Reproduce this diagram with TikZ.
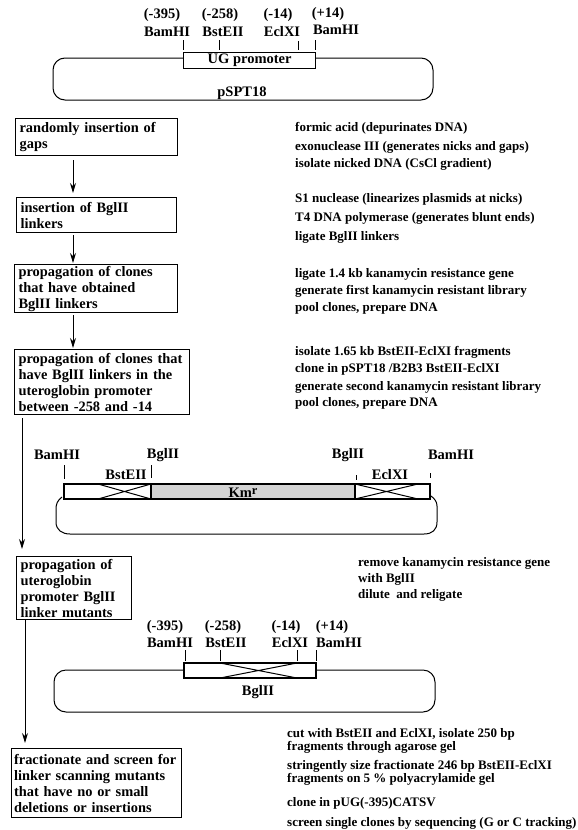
\documentclass[tikz,border=0pt]{standalone}
\usepackage{fontspec}
\setmainfont{Liberation Serif}
\usetikzlibrary{arrows.meta}
\tikzset{
 x=1pt,y=-1pt,
 line/.style={draw=black,line width=1pt},
 flowbox/.style={draw=black,line width=1.2pt,fill=white,inner xsep=4pt,inner ysep=0pt,align=left,anchor=north west,font=\fontsize{14.4}{16}\bfseries\selectfont},
 note/.style={anchor=west,inner sep=0pt,font=\fontsize{13}{15}\bfseries\selectfont},
 site/.style={anchor=center,inner sep=0pt,align=center,font=\fontsize{14.5}{17}\bfseries\selectfont},
 flow/.style={draw=black,line width=1pt,-{Stealth[length=10pt,width=6pt]}},
 cassette/.style={draw=black,line width=1.2pt,fill=white,inner sep=0pt},
 plasmid/.style={draw=black,line width=1pt,rounded corners=12pt}
}
\begin{document}
\begin{tikzpicture}
\useasboundingbox (0,0) rectangle (578,830);
\fill[white] (0,0) rectangle (578,830);

% top plasmid
\draw[plasmid] (315,58) -- (433,58) -- (433,100) -- (53,100) -- (53,58) -- (183,58);
\node[cassette,minimum width=132pt,minimum height=16pt,font=\fontsize{14.5}{16}\bfseries\selectfont,anchor=north west] (ug) at (183,52) {UG promoter\hspace{6pt}};
\node[site] (p1a) at (162,15) {(-395)};
\node[site] (p1b) at (167,32) {BamHI};
\node[site] (p2a) at (220,15) {(-258)};
\node[site] (p2b) at (223,32) {BstEII};
\node[site] (p3a) at (278,15) {(-14)};
\node[site] (p3b) at (282,32) {EclXI};
\node[site] (p4a) at (328,14) {(+14)};
\node[site] (p4b) at (336,30) {BamHI};
\draw[line] (183,40) -- (183,50);
\draw[line] (219,40) -- (219,50);
\draw[line] (298,41) -- (298,50);
\draw[line] (315,40) -- (315,50);
\node[site] (ps) at (242,93) {pSPT18};

% flow boxes
\node[flowbox,text width=154pt,minimum height=37pt] (b1) at (15,118) {randomly insertion of\\gaps};
\node[flowbox,text width=152pt,minimum height=35pt] (b2) at (16,197) {insertion of BglII\\linkers};
\node[flowbox,text width=155pt,minimum height=48pt] (b3) at (14,264) {propagation of clones\\that have obtained\\BglII linkers};
\node[flowbox,text width=167pt,minimum height=65pt] (b4) at (14,349) {propagation of clones that\\have BglII linkers in the\\uteroglobin promoter\\between -258 and -14};
\node[flowbox,text width=107pt,minimum height=63pt] (b5) at (16,556) {propagation of\\uteroglobin\\promoter BglII\\linker mutants};
\node[flowbox,inner xsep=2.5pt,text width=165pt,minimum height=69pt] (b6) at (11,748) {\mbox{fractionate and screen for}\\linker scanning mutants\\that have no or small\\deletions or insertions};

\coordinate (a1s) at (73,160);
\coordinate (a1e) at (73,193);
\coordinate (a2s) at (73,235);
\coordinate (a2e) at (73,263);
\coordinate (a3s) at (73,315);
\coordinate (a3e) at (73,348);
\coordinate (a4s) at (22,418);
\coordinate (a4e) at (22,549);
\coordinate (a5s) at (25,619);
\coordinate (a5e) at (25,743);
\draw[flow] (a1s) -- (a1e);
\draw[flow] (a2s) -- (a2e);
\draw[flow] (a3s) -- (a3e);
\draw[flow] (a4s) -- (a4e);
\draw[flow] (a5s) -- (a5e);

% notes
\foreach \y/\t in {
 128/{formic acid (depurinates DNA)},
 147/{exonuclease III (generates nicks and gaps)},
 164/{isolate nicked DNA (CsCl gradient)},
 199/{S1 nuclease (linearizes plasmids at nicks)},
 218/{T4 DNA polymerase (generates blunt ends)},
 237/{ligate BglII linkers},
 274/{ligate 1.4 kb kanamycin resistance gene},
 291/{generate first kanamycin resistant library},
 308/{pool clones, prepare DNA},
 352/{isolate 1.65 kb BstEII-EclXI fragments},
 369/{clone in pSPT18 /B2B3 BstEII-EclXI},
 387/{generate second kanamycin resistant library},
 403/{pool clones, prepare DNA}}
 {\node[note] at (295,\y) {\t};}
\foreach \y/\t in {
 563/{remove kanamycin resistance gene},
 579/{with BglII},
 595/{dilute\ \ and religate}}
 {\node[note] at (358,\y) {\t};}
\foreach \y/\t in {
 734/{cut with BstEII and EclXI, isolate 250 bp},
 747/{fragments through agarose gel},
 766/{stringently size fractionate 246 bp BstEII-EclXI},
 779/{fragments on 5 \% polyacrylamide gel},
 803/{clone in pUG(-395)CATSV},
 823/{screen single clones by sequencing (G or C tracking)}}
 {\node[note] at (287,\y) {\t};}

% middle construct
\draw[line] (62,497) .. controls (57,501) and (56,504) .. (56,510) -- (56,522) .. controls (56,530) and (62,534) .. (70,534) -- (424,534) .. controls (432,534) and (437,530) .. (437,522) -- (437,506) .. controls (437,502) and (435,499) .. (431,496);
\draw[draw=black,line width=1.2pt,fill=white] (64,484) rectangle (430,499);
\fill[black!17] (151,485) rectangle (355,498);
\draw[line width=1.2pt] (151,484) -- (151,499) (355,484) -- (355,499);
\draw[line] (98,484) -- (151,499) (98,499) -- (151,484);
\draw[line] (355,484) -- (418,499) (355,499) -- (418,484);
\node[site] (km) at (243,493) {Km\raisebox{3pt}{\fontsize{12.5}{12.5}\selectfont r}};
\node[site] at (57,455) {BamHI};
\node[site] at (163,455) {BglII};
\node[site] at (348,455) {BglII};
\node[site] at (451,455) {BamHI};
\node[site] at (126,475) {BstEII};
\node[site] at (390,475) {EclXI};
\draw[line] (64,465) -- (64,479);
\draw[line] (151,465) -- (151,478);
\draw[line] (356,475) -- (356,480);
\draw[line] (430,473) -- (430,478);

% lower construct
\draw[plasmid] (316,670) -- (435,670) -- (435,712) -- (54,712) -- (54,670) -- (184,670);
\draw[draw=black,line width=1.2pt,fill=white] (184,663) rectangle (316,678);
\draw[line] (220,663) -- (297,678) (220,678) -- (297,663);
\node[site] at (165,627) {(-395)};
\node[site] at (170,643) {BamHI};
\node[site] at (223,627) {(-258)};
\node[site] at (226,643) {BstEII};
\node[site] at (286,627) {(-14)};
\node[site] at (290,643) {EclXI};
\node[site] at (332,627) {(+14)};
\node[site] at (339,643) {BamHI};
\draw[line] (185,650) -- (185,661);
\draw[line] (220,650) -- (220,661);
\draw[line] (297,650) -- (297,661);
\draw[line] (316,650) -- (316,661);
\node[site] at (258,692) {BglII};
\end{tikzpicture}
\end{document}
